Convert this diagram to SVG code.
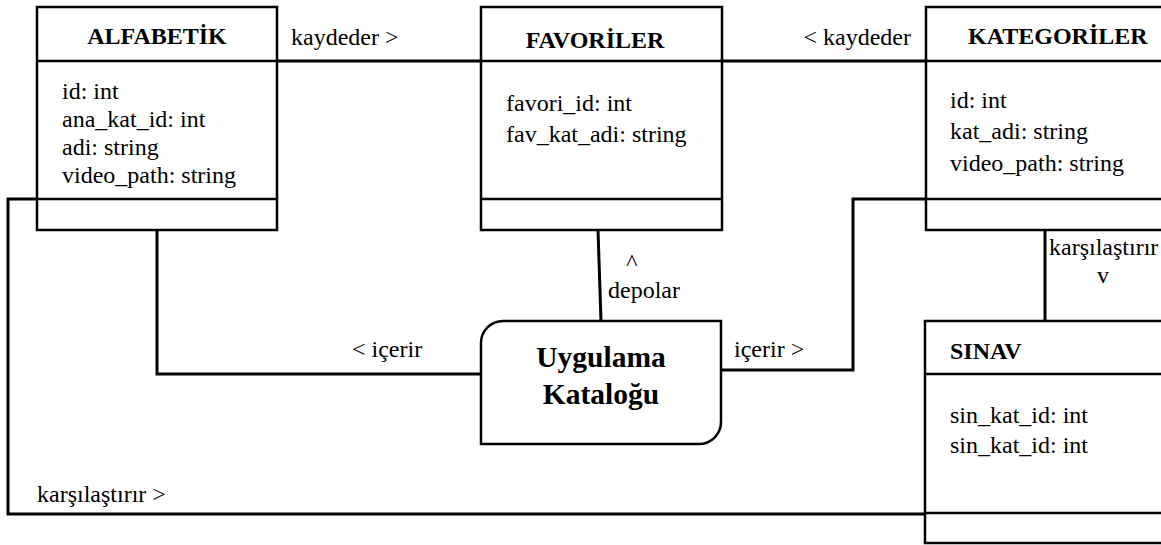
<svg xmlns="http://www.w3.org/2000/svg" width="1161" height="545" viewBox="0 0 1161 545">
<style>
.box{fill:#fff;stroke:#000;stroke-width:2.5}
.div{stroke:#000;stroke-width:2.5;fill:none}
.con{stroke:#000;stroke-width:3;fill:none}
text{font-family:'Liberation Serif',Tinos,'Times New Roman',Times,'DejaVu Serif',serif;fill:#000}
.t{font-size:24px}
.h{font-size:24px;font-weight:bold}
.big{font-size:29.5px;font-weight:bold;text-anchor:middle}
</style>
<rect width="1161" height="545" fill="#fff"/>
<g id="connectors">
<line class="con" x1="277" y1="61" x2="481" y2="61"/>
<line class="con" x1="722" y1="61" x2="926" y2="61"/>
<line class="con" x1="598" y1="230" x2="601" y2="321"/>
<polyline class="con" points="157,230 157,374 481,374"/>
<polyline class="con" points="721,370 853,370 853,199 926,199"/>
<line class="con" x1="1045" y1="230" x2="1045" y2="321"/>
<polyline class="con" points="37,199 8,199 8,514 925,514"/>
<text class="t" x="291" y="45">kaydeder &gt;</text>
<text class="t" x="911" y="45" text-anchor="end">&lt; kaydeder</text>
<text class="t" x="632" y="270" text-anchor="middle">^</text>
<text class="t" x="608" y="298">depolar</text>
<text class="t" x="352" y="357">&lt; içerir</text>
<text class="t" x="734" y="357">içerir &gt;</text>
<text class="t" x="1049" y="255">karşılaştırır</text>
<text class="t" x="1103" y="283" text-anchor="middle">v</text>
<text class="t" x="37" y="502">karşılaştırır &gt;</text>
</g>
<g id="alfabetik">
<rect class="box" x="37" y="7" width="240" height="223"/>
<line class="div" x1="37" y1="61" x2="277" y2="61"/>
<line class="div" x1="37" y1="199" x2="277" y2="199"/>
<text class="h" x="157" y="44" text-anchor="middle">ALFABETİK</text>
<text class="t" x="62" y="99">id: int</text>
<text class="t" x="62" y="127">ana_kat_id: int</text>
<text class="t" x="62" y="155">adi: string</text>
<text class="t" x="62" y="183">video_path: string</text>
</g>
<g id="favoriler">
<rect class="box" x="481" y="7" width="241" height="223"/>
<line class="div" x1="481" y1="61" x2="722" y2="61"/>
<line class="div" x1="481" y1="199" x2="722" y2="199"/>
<text class="h" x="595" y="48" text-anchor="middle">FAVORİLER</text>
<text class="t" x="506" y="111">favori_id: int</text>
<text class="t" x="506" y="142">fav_kat_adi: string</text>
</g>
<g id="kategoriler">
<rect class="box" x="926" y="7" width="260" height="223"/>
<line class="div" x1="926" y1="61" x2="1186" y2="61"/>
<line class="div" x1="926" y1="199" x2="1186" y2="199"/>
<text class="h" x="968" y="44">KATEGORİLER</text>
<text class="t" x="950" y="108">id: int</text>
<text class="t" x="950" y="139">kat_adi: string</text>
<text class="t" x="950" y="171">video_path: string</text>
</g>
<g id="sinav">
<rect class="box" x="925" y="321" width="260" height="222"/>
<line class="div" x1="925" y1="374" x2="1185" y2="374"/>
<line class="div" x1="925" y1="513" x2="1185" y2="513"/>
<text class="h" x="950" y="359">SINAV</text>
<text class="t" x="950" y="423">sin_kat_id: int</text>
<text class="t" x="950" y="453">sin_kat_id: int</text>
</g>
<g id="uygulama">
<path class="box" d="M481,343 A22,22 0 0 1 503,321 H721 V422 A22,22 0 0 1 699,444 H481 Z"/>
<text class="big" x="601" y="367">Uygulama</text>
<text class="big" x="601" y="404">Kataloğu</text>
</g>
</svg>
